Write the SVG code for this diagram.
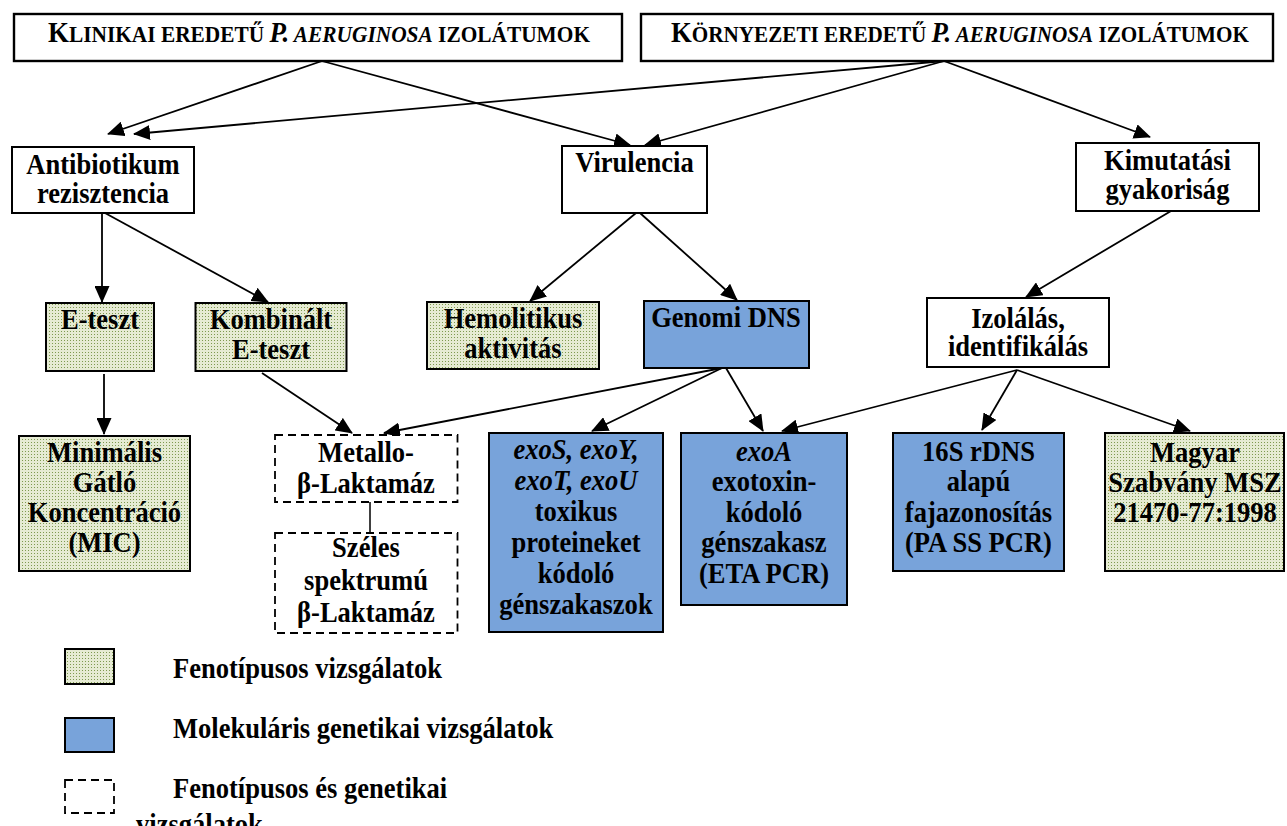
<svg xmlns="http://www.w3.org/2000/svg" width="1287" height="826" viewBox="0 0 1287 826">
<style>
  .t { font-family: "Liberation Serif", "Times New Roman", serif; font-weight: bold; font-size: 29.5px; fill: #000; }
  .h { font-family: "Liberation Serif", "Times New Roman", serif; font-weight: bold; fill: #000; }
  .c { text-anchor: middle; }
  .it { font-style: italic; }
  .box { fill: #fff; stroke: #000; stroke-width: 2; }
  .hbox { fill: #fff; stroke: #000; stroke-width: 2.4; }
  .green { fill: url(#dots); stroke: #000; stroke-width: 2; }
  .blue { fill: #78a3da; stroke: #000; stroke-width: 2; }
  .dash { fill: #fff; stroke: #000; stroke-width: 1.8; stroke-dasharray: 8 5; }
  .ln { stroke: #000; stroke-width: 1.8; fill: none; marker-end: url(#ah); }
</style>
<defs>
  <pattern id="dots" width="3" height="3" patternUnits="userSpaceOnUse">
    <rect width="3" height="3" fill="#e6ebd3"/>
    <rect x="1" y="1" width="1" height="1" fill="#7f9a50"/>
  </pattern>
  <marker id="ah" markerUnits="userSpaceOnUse" markerWidth="17" markerHeight="15" refX="16" refY="7.5" orient="auto">
    <path d="M0,0 L17,7.5 L0,15 Z" fill="#000"/>
  </marker>
</defs>
<rect width="1287" height="826" fill="#fff"/>

<g id="connectors">
  <line class="ln" x1="322" y1="61" x2="108" y2="134"/>
  <line class="ln" x1="944" y1="61" x2="134" y2="134"/>
  <line class="ln" x1="322" y1="61" x2="630" y2="145"/>
  <line class="ln" x1="944" y1="61" x2="645" y2="145"/>
  <line class="ln" x1="944" y1="61" x2="1150" y2="137"/>
  <line class="ln" x1="102" y1="213" x2="102" y2="302"/>
  <line class="ln" x1="105" y1="213" x2="268" y2="302"/>
  <line class="ln" x1="636" y1="213" x2="530" y2="301"/>
  <line class="ln" x1="640" y1="213" x2="737" y2="300"/>
  <line class="ln" x1="1171" y1="211" x2="1026" y2="297"/>
  <line class="ln" x1="104" y1="374" x2="104" y2="434"/>
  <line class="ln" x1="262" y1="373" x2="352" y2="433"/>
  <line class="ln" x1="722" y1="368" x2="384" y2="433"/>
  <line class="ln" x1="722" y1="368" x2="592" y2="431"/>
  <line class="ln" x1="726" y1="368" x2="763" y2="431"/>
  <line class="ln" x1="1017" y1="370" x2="782" y2="431"/>
  <line class="ln" x1="1017" y1="370" x2="982" y2="430"/>
  <line class="ln" x1="1017" y1="370" x2="1190" y2="431"/>
  <line x1="370" y1="502" x2="370" y2="533" stroke="#000" stroke-width="1.5"/>
</g>

<g id="klinikai">
  <rect class="hbox" x="14" y="14" width="608" height="47"/>
  <text class="h" x="48" y="42" textLength="542" lengthAdjust="spacingAndGlyphs"><tspan font-size="29">K</tspan><tspan font-size="23">LINIKAI EREDETŰ </tspan><tspan font-size="29" class="it">P.</tspan><tspan font-size="23" class="it"> AERUGINOSA</tspan><tspan font-size="23"> IZOLÁTUMOK</tspan></text>
</g>
<g id="kornyezeti">
  <rect class="hbox" x="641" y="14" width="632" height="47"/>
  <text class="h" x="671" y="42" textLength="578" lengthAdjust="spacingAndGlyphs"><tspan font-size="29">K</tspan><tspan font-size="23">ÖRNYEZETI EREDETŰ </tspan><tspan font-size="29" class="it">P.</tspan><tspan font-size="23" class="it"> AERUGINOSA</tspan><tspan font-size="23"> IZOLÁTUMOK</tspan></text>
</g>

<g id="antibiotikum">
  <rect class="box" x="12" y="147" width="182" height="66"/>
  <text class="t c" transform="matrix(0.9 0 0 1 10.3 0)"><tspan x="103" y="174">Antibiotikum</tspan><tspan x="103" y="203">rezisztencia</tspan></text>
</g>
<g id="virulencia">
  <rect class="box" x="562" y="146" width="145" height="67"/>
  <text class="t c" transform="matrix(0.9 0 0 1 63.45 0)"><tspan x="634.5" y="172">Virulencia</tspan></text>
</g>
<g id="kimutatasi">
  <rect class="box" x="1076" y="143" width="183" height="68"/>
  <text class="t c" transform="matrix(0.9 0 0 1 116.75 0)"><tspan x="1167.5" y="170">Kimutatási</tspan><tspan x="1167.5" y="199">gyakoriság</tspan></text>
</g>

<g id="eteszt">
  <rect class="green" x="46" y="303" width="108" height="68"/>
  <text class="t c" transform="matrix(0.9 0 0 1 10 0)"><tspan x="100" y="329">E-teszt</tspan></text>
</g>
<g id="kombinalt">
  <rect class="green" x="195.5" y="303" width="151" height="68"/>
  <text class="t c" transform="matrix(0.9 0 0 1 27.1 0)"><tspan x="271" y="329">Kombinált</tspan><tspan x="271" y="359">E-teszt</tspan></text>
</g>
<g id="hemolitikus">
  <rect class="green" x="427" y="302" width="172" height="67"/>
  <text class="t c" transform="matrix(0.9 0 0 1 51.3 0)"><tspan x="513" y="328">Hemolitikus</tspan><tspan x="513" y="358">aktivitás</tspan></text>
</g>
<g id="genomi">
  <rect class="blue" x="644" y="301" width="165" height="67"/>
  <text class="t c" transform="matrix(0.9 0 0 1 72.6 0)"><tspan x="726" y="327">Genomi DNS</tspan></text>
</g>
<g id="izolalas">
  <rect class="box" x="927" y="298" width="182" height="69"/>
  <text class="t c" transform="matrix(0.9 0 0 1 101.8 0)"><tspan x="1018" y="328">Izolálás,</tspan><tspan x="1018" y="356">identifikálás</tspan></text>
</g>

<g id="mic">
  <rect class="green" x="19" y="436" width="171" height="135"/>
  <text class="t c" transform="matrix(0.9 0 0 1 10.45 0)"><tspan x="104.5" y="462">Minimális</tspan><tspan x="104.5" y="492">Gátló</tspan><tspan x="104.5" y="522">Koncentráció</tspan><tspan x="104.5" y="552">(MIC)</tspan></text>
</g>
<g id="metallo">
  <rect class="dash" x="275" y="435" width="182.5" height="67"/>
  <text class="t c" transform="matrix(0.9 0 0 1 36.6 0)"><tspan x="366" y="462">Metallo-</tspan><tspan x="366" y="493">β-Laktamáz</tspan></text>
</g>
<g id="szeles">
  <rect class="dash" x="275" y="533" width="182.5" height="100"/>
  <text class="t c" transform="matrix(0.9 0 0 1 36.6 0)"><tspan x="366" y="557">Széles</tspan><tspan x="366" y="590">spektrumú</tspan><tspan x="366" y="622">β-Laktamáz</tspan></text>
</g>
<g id="exos">
  <rect class="blue" x="489" y="433" width="174" height="199"/>
  <text class="t c" transform="matrix(0.9 0 0 1 57.6 0)"><tspan x="576" y="459" class="it">exoS, exoY,</tspan><tspan x="576" y="490" class="it">exoT, exoU</tspan><tspan x="576" y="521">toxikus</tspan><tspan x="576" y="552">proteineket</tspan><tspan x="576" y="583">kódoló</tspan><tspan x="576" y="614">génszakaszok</tspan></text>
</g>
<g id="exoa">
  <rect class="blue" x="681" y="433" width="166" height="172"/>
  <text class="t c" transform="matrix(0.9 0 0 1 76.4 0)"><tspan x="764" y="461" class="it">exoA</tspan><tspan x="764" y="491">exotoxin-</tspan><tspan x="764" y="522">kódoló</tspan><tspan x="764" y="552">génszakasz</tspan><tspan x="764" y="583">(ETA PCR)</tspan></text>
</g>
<g id="rdns">
  <rect class="blue" x="893" y="433" width="171" height="138"/>
  <text class="t c" transform="matrix(0.9 0 0 1 97.85 0)"><tspan x="978.5" y="461">16S rDNS</tspan><tspan x="978.5" y="491">alapú</tspan><tspan x="978.5" y="522">fajazonosítás</tspan><tspan x="978.5" y="552">(PA SS PCR)</tspan></text>
</g>
<g id="magyar">
  <rect class="green" x="1105" y="433" width="179" height="138"/>
  <text class="t c" transform="matrix(0.9 0 0 1 119.5 0)"><tspan x="1195" y="462">Magyar</tspan><tspan x="1195" y="492">Szabvány MSZ</tspan><tspan x="1195" y="522">21470-77:1998</tspan></text>
</g>

<g id="legend">
  <rect class="green" x="65" y="649" width="49" height="35"/>
  <text class="t" x="173" y="678" transform="matrix(0.9 0 0 1 17.3 0)">Fenotípusos vizsgálatok</text>
  <rect class="blue" x="65" y="718" width="49" height="34"/>
  <text class="t" x="173" y="738" transform="matrix(0.9 0 0 1 17.3 0)">Molekuláris genetikai vizsgálatok</text>
  <rect class="dash" x="65" y="780" width="49" height="33"/>
  <text class="t" x="173" y="798" transform="matrix(0.9 0 0 1 17.3 0)">Fenotípusos és genetikai</text>
  <text class="t" x="136" y="834" transform="matrix(0.9 0 0 1 13.6 0)">vizsgálatok</text>
</g>
</svg>
